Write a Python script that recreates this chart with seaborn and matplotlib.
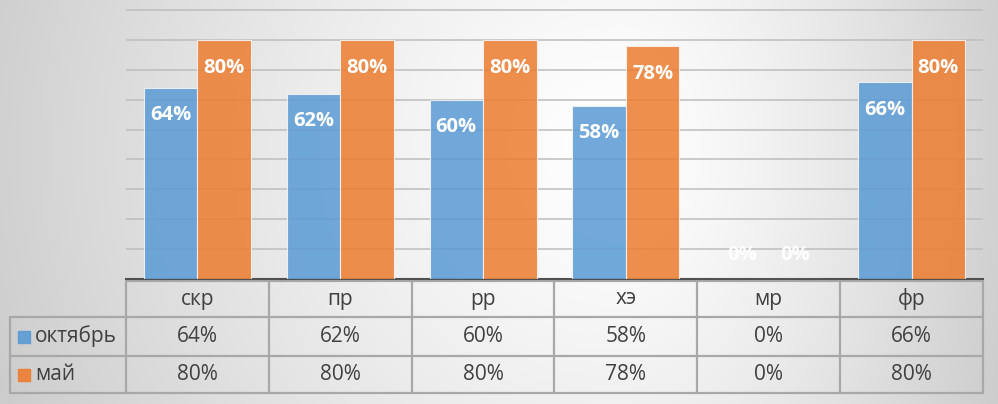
import numpy as np
import pandas as pd
import seaborn as sns
import matplotlib.pyplot as plt
from matplotlib.patches import Rectangle
from matplotlib.lines import Line2D

# data
categories = ["скр", "пр", "рр", "хэ", "мр", "фр"]
oct_vals = [0.64, 0.62, 0.60, 0.58, 0.0, 0.66]
may_vals = [0.80, 0.80, 0.80, 0.78, 0.0, 0.80]
series = ["октябрь", "май"]
colors = ["#5b9bd5", "#ed7d31"]

df = pd.DataFrame({
    "cat": categories * 2,
    "val": oct_vals + may_vals,
    "series": [series[0]] * 6 + [series[1]] * 6,
})

sns.set_style("white")
plt.rcParams["font.family"] = ["Open Sans", "DejaVu Sans"]

W, H = 998, 404
fig = plt.figure(figsize=(W / 100, H / 100), dpi=100)

# background gradient (light in the middle, gray to the sides)
bg = fig.add_axes([0, 0, 1, 1], zorder=-10)
yy, xx = np.mgrid[0:H, 0:W]
dx = np.where(xx < 620, (620 - xx) / 620.0, (xx - 620) / 380.0)
dy = np.abs(yy - 150) / 600.0
d = np.sqrt(dx ** 2 + dy ** 2)
shade = 1.0 - 0.18 * np.clip(d, 0, 1.2) ** 1.3
bg.imshow(np.dstack([shade] * 3), aspect="auto", extent=[0, W, H, 0])
bg.set_xlim(0, W)
bg.set_ylim(H, 0)
bg.axis("off")

x0, x1 = 126, 983
y_base = 279
ax = fig.add_axes([x0 / W, (H - y_base) / H, (x1 - x0) / W, y_base / H])
ax.patch.set_alpha(0)
px_per = 269 / 0.9
ax.set_ylim(0, y_base / px_per)

sns.barplot(data=df, x="cat", y="val", hue="series", palette=colors,
            order=categories, width=0.75, ax=ax, legend=False, saturation=1,
            edgecolor="#f6f6f6", linewidth=0.8, alpha=0.86, zorder=3)
ax.set_xlim(-0.5, 5.5)
for g in np.arange(0.1, 0.95, 0.1):
    ax.axhline(g, color="#bdbdbd", lw=1.1, zorder=1)
for s in ["top", "right", "left"]:
    ax.spines[s].set_visible(False)
ax.spines["bottom"].set_color("#505050")
ax.spines["bottom"].set_linewidth(1.5)
ax.set_xticks([])
ax.set_yticks([])
ax.set_xlabel("")
ax.set_ylabel("")

# bar labels
for cont in ax.containers:
    for bar in cont:
        v = bar.get_height()
        cx = bar.get_x() + bar.get_width() / 2
        off = -20 if v > 0 else 17
        ax.annotate(f"{v:.0%}", (cx, v), xytext=(0, off), textcoords="offset points",
                    ha="center", va="center", color="white", fontsize=14.5,
                    fontweight="bold", zorder=5)

# data table drawn in pixel coordinates on bg axes
cols = np.linspace(x0, x1, 7)
rows = [281, 317, 356, 393]
lc = "#a8a8a8"
lw = 1.6
left = 10
bg.add_line(Line2D([x0, x1], [rows[0], rows[0]], color=lc, lw=lw))
for r in rows[1:]:
    bg.add_line(Line2D([left, x1], [r, r], color=lc, lw=lw))
for c in cols:
    bg.add_line(Line2D([c, c], [rows[0], rows[3]], color=lc, lw=lw))
bg.add_line(Line2D([left, left], [rows[1], rows[3]], color=lc, lw=lw))

tc = "#404040"
fs = 15
for i, cat in enumerate(categories):
    cx = (cols[i] + cols[i + 1]) / 2
    bg.text(cx, (rows[0] + rows[1]) / 2, cat, ha="center", va="center", fontsize=fs, color=tc)
    bg.text(cx, (rows[1] + rows[2]) / 2, f"{oct_vals[i]:.0%}", ha="center", va="center", fontsize=fs, color=tc)
    bg.text(cx, (rows[2] + rows[3]) / 2, f"{may_vals[i]:.0%}", ha="center", va="center", fontsize=fs, color=tc)

for k, name in enumerate(series):
    cy = (rows[k + 1] + rows[k + 2]) / 2
    bg.add_patch(Rectangle((18, cy - 6), 12, 12, color=colors[k], alpha=0.9))
    bg.text(35, cy, name, ha="left", va="center", fontsize=fs, color=tc)

fig.savefig("out.png", dpi=100)
